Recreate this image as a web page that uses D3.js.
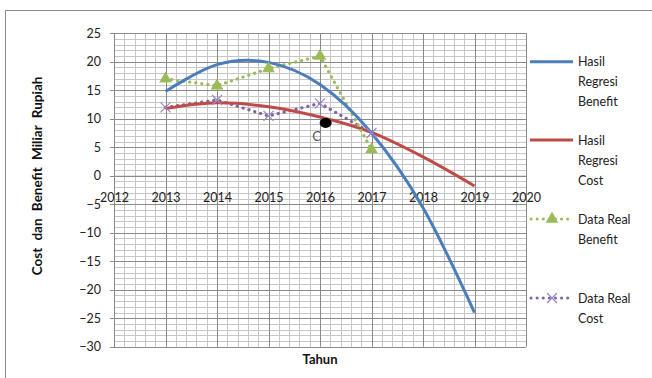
<!DOCTYPE html>
<html>
<head>
<meta charset="utf-8">
<script src="https://cdn.jsdelivr.net/npm/d3@7"></script>
<style>
  html, body { margin: 0; padding: 0; background: #fff; }
  svg { display: block; font-family: Lato, "Open Sans", sans-serif; }
</style>
</head>
<body>
<svg id="chart" width="652" height="378"></svg>
<script>
// Years on the horizontal axis
const years = [2013, 2014, 2015, 2016, 2017, 2018, 2019];
const realYears = [2013, 2014, 2015, 2016, 2017];

// Regression curves (billion rupiah)
const regBenefit = [14.8, 19.5, 19.9, 16.0, 7.5, -5.6, -24.0];
const regCost = [11.8, 12.8, 12.1, 10.3, 7.6, 3.3, -1.8];

// Observed values
const realBenefit = [17.0, 15.8, 18.8, 21.0, 4.6];
const realCost = [12.0, 13.3, 10.5, 12.7, 7.5];

// Marked point C
const pointC = { year: 2016.11, value: 9.25, label: "C" };

// Axis ticks
const xTicks = [2012, 2013, 2014, 2015, 2016, 2017, 2018, 2019, 2020];
const yTicks = [25, 20, 15, 10, 5, 0, -5, -10, -15, -20, -25, -30];

const legendItems = [
  { lines: ["Hasil", "Regresi", "Benefit"], color: "#4a7ebb", style: "solid" },
  { lines: ["Hasil", "Regresi", "Cost"], color: "#be4b48", style: "solid" },
  { lines: ["Data Real", "Benefit"], color: "#9bbb59", style: "dot", marker: "triangle" },
  { lines: ["Data Real", "Cost"], color: "#8064a2", style: "dot", marker: "cross" }
];

const svg = d3.select("#chart");

const x = d3.scaleLinear().domain([2012, 2020]).range([114, 526]);
const y = d3.scaleLinear().domain([-30, 25]).range([346.7, 33.3]);

// Outer chart frame
svg.append("rect")
  .attr("x", 5.5).attr("y", 10.5)
  .attr("width", 660).attr("height", 380)
  .attr("fill", "#fff").attr("stroke", "#8c8c8c").attr("stroke-width", 1);

const grid = svg.append("g");

// Minor grid
const minorX = d3.range(2012, 2020.001, 0.2);
const minorY = d3.range(-30, 25.001, 1);
grid.selectAll(".mx").data(minorX).join("line")
  .attr("x1", d => Math.round(x(d)) + 0.5).attr("x2", d => Math.round(x(d)) + 0.5)
  .attr("y1", y(25)).attr("y2", y(-30))
  .attr("stroke", "#c6c6c6").attr("stroke-width", 1);
grid.selectAll(".my").data(minorY).join("line")
  .attr("y1", d => Math.round(y(d)) + 0.5).attr("y2", d => Math.round(y(d)) + 0.5)
  .attr("x1", x(2012)).attr("x2", x(2020))
  .attr("stroke", "#c6c6c6").attr("stroke-width", 1);

// Major grid
grid.selectAll(".Mx").data(xTicks).join("line")
  .attr("x1", d => Math.round(x(d)) + 0.5).attr("x2", d => Math.round(x(d)) + 0.5)
  .attr("y1", y(25)).attr("y2", y(-30))
  .attr("stroke", "#8a8a8a").attr("stroke-width", 1);
grid.selectAll(".My").data(yTicks).join("line")
  .attr("y1", d => Math.round(y(d)) + 0.5).attr("y2", d => Math.round(y(d)) + 0.5)
  .attr("x1", x(2012) - 4).attr("x2", x(2020))
  .attr("stroke", "#8a8a8a").attr("stroke-width", 1);

// Y axis labels
const yAxis = d3.axisLeft(y).tickValues(yTicks).tickSize(0).tickPadding(13);
const gy = svg.append("g").attr("transform", `translate(${x(2012)},0)`).call(yAxis);
gy.select(".domain").attr("stroke", "#8a8a8a");
gy.selectAll("text").attr("font-size", 12.5).attr("fill", "#222")
  .attr("font-family", "Lato, sans-serif");

// X axis crossing at zero, labels below
const xAxis = d3.axisBottom(x).tickValues(xTicks).tickFormat(d3.format("d")).tickSize(0).tickPadding(17);
const gx = svg.append("g").attr("transform", `translate(0,${y(0)})`).call(xAxis);
gx.select(".domain").attr("stroke", "#8a8a8a");
gx.selectAll("text").attr("font-size", 12.5).attr("fill", "#222")
  .attr("font-family", "Lato, sans-serif");

// Axis titles
svg.append("text")
  .attr("transform", `translate(42,176) rotate(-90)`)
  .attr("text-anchor", "middle")
  .attr("font-weight", "bold").attr("font-size", 13.5)
  .attr("word-spacing", 4)
  .attr("fill", "#111")
  .text("Cost dan Benefit Miliar Rupiah");
svg.append("text")
  .attr("x", 320).attr("y", 364)
  .attr("text-anchor", "middle")
  .attr("font-weight", "bold").attr("font-size", 13)
  .attr("fill", "#111")
  .text("Tahun");

// Series
const smooth = d3.line().x(d => x(d[0])).y(d => y(d[1])).curve(d3.curveCardinal.tension(0));
const straight = d3.line().x(d => x(d[0])).y(d => y(d[1]));

const plot = svg.append("g");

plot.append("path")
  .attr("d", straight(realCost.map((v, i) => [realYears[i], v])))
  .attr("fill", "none").attr("stroke", "#8064a2").attr("stroke-width", 3.2)
  .attr("stroke-dasharray", "0.1 6").attr("stroke-linecap", "round");

plot.append("path")
  .attr("d", smooth(regCost.map((v, i) => [years[i], v])))
  .attr("fill", "none").attr("stroke", "#be4b48").attr("stroke-width", 3);

plot.append("path")
  .attr("d", straight(realBenefit.map((v, i) => [realYears[i], v])))
  .attr("fill", "none").attr("stroke", "#9bbb59").attr("stroke-width", 3.2)
  .attr("stroke-dasharray", "0.1 6").attr("stroke-linecap", "round");

plot.append("path")
  .attr("d", smooth(regBenefit.map((v, i) => [years[i], v])))
  .attr("fill", "none").attr("stroke", "#4a7ebb").attr("stroke-width", 3);

// Markers
const triangle = d3.symbol().type(d3.symbolTriangle).size(70);
function drawCross(g, cx, cy, r, color) {
  g.append("path")
    .attr("d", `M${cx - r},${cy - r}L${cx + r},${cy + r}M${cx - r},${cy + r}L${cx + r},${cy - r}`)
    .attr("stroke", color).attr("stroke-width", 1.2).attr("fill", "none");
}
realBenefit.forEach((v, i) => {
  plot.append("path").attr("d", triangle)
    .attr("transform", `translate(${x(realYears[i])},${y(v)})`)
    .attr("fill", "#9bbb59");
});
realCost.forEach((v, i) => drawCross(plot, x(realYears[i]), y(v), 5, "#9a86c6"));

// Point C
plot.append("ellipse")
  .attr("cx", x(pointC.year)).attr("cy", y(pointC.value))
  .attr("rx", 6).attr("ry", 5).attr("fill", "#000");
svg.append("text")
  .attr("x", x(pointC.year) - 9).attr("y", y(pointC.value) + 18)
  .attr("text-anchor", "middle").attr("font-size", 13)
  .attr("fill", "#555")
  .text(pointC.label);

// Legend
const legendTops = [61.7, 140, 219, 298];
legendItems.forEach((item, i) => {
  const ly = legendTops[i];
  const g = svg.append("g");
  const line = g.append("line")
    .attr("x1", 530).attr("x2", 573).attr("y1", ly).attr("y2", ly)
    .attr("stroke", item.color).attr("stroke-width", 3);
  if (item.style === "dot") {
    line.attr("stroke-dasharray", "0.1 6").attr("stroke-linecap", "round")
      .attr("x1", 531).attr("x2", 572);
  }
  if (item.marker === "triangle") {
    g.append("path").attr("d", triangle).attr("transform", `translate(552,${ly})`).attr("fill", item.color);
  } else if (item.marker === "cross") {
    drawCross(g, 552, ly, 5, "#9a86c6");
  }
  item.lines.forEach((t, j) => {
    g.append("text")
      .attr("x", 578).attr("y", ly + 4.5 + j * 20)
      .attr("font-size", 12.5).attr("fill", "#222")
      .text(t);
  });
});
</script>
</body>
</html>
